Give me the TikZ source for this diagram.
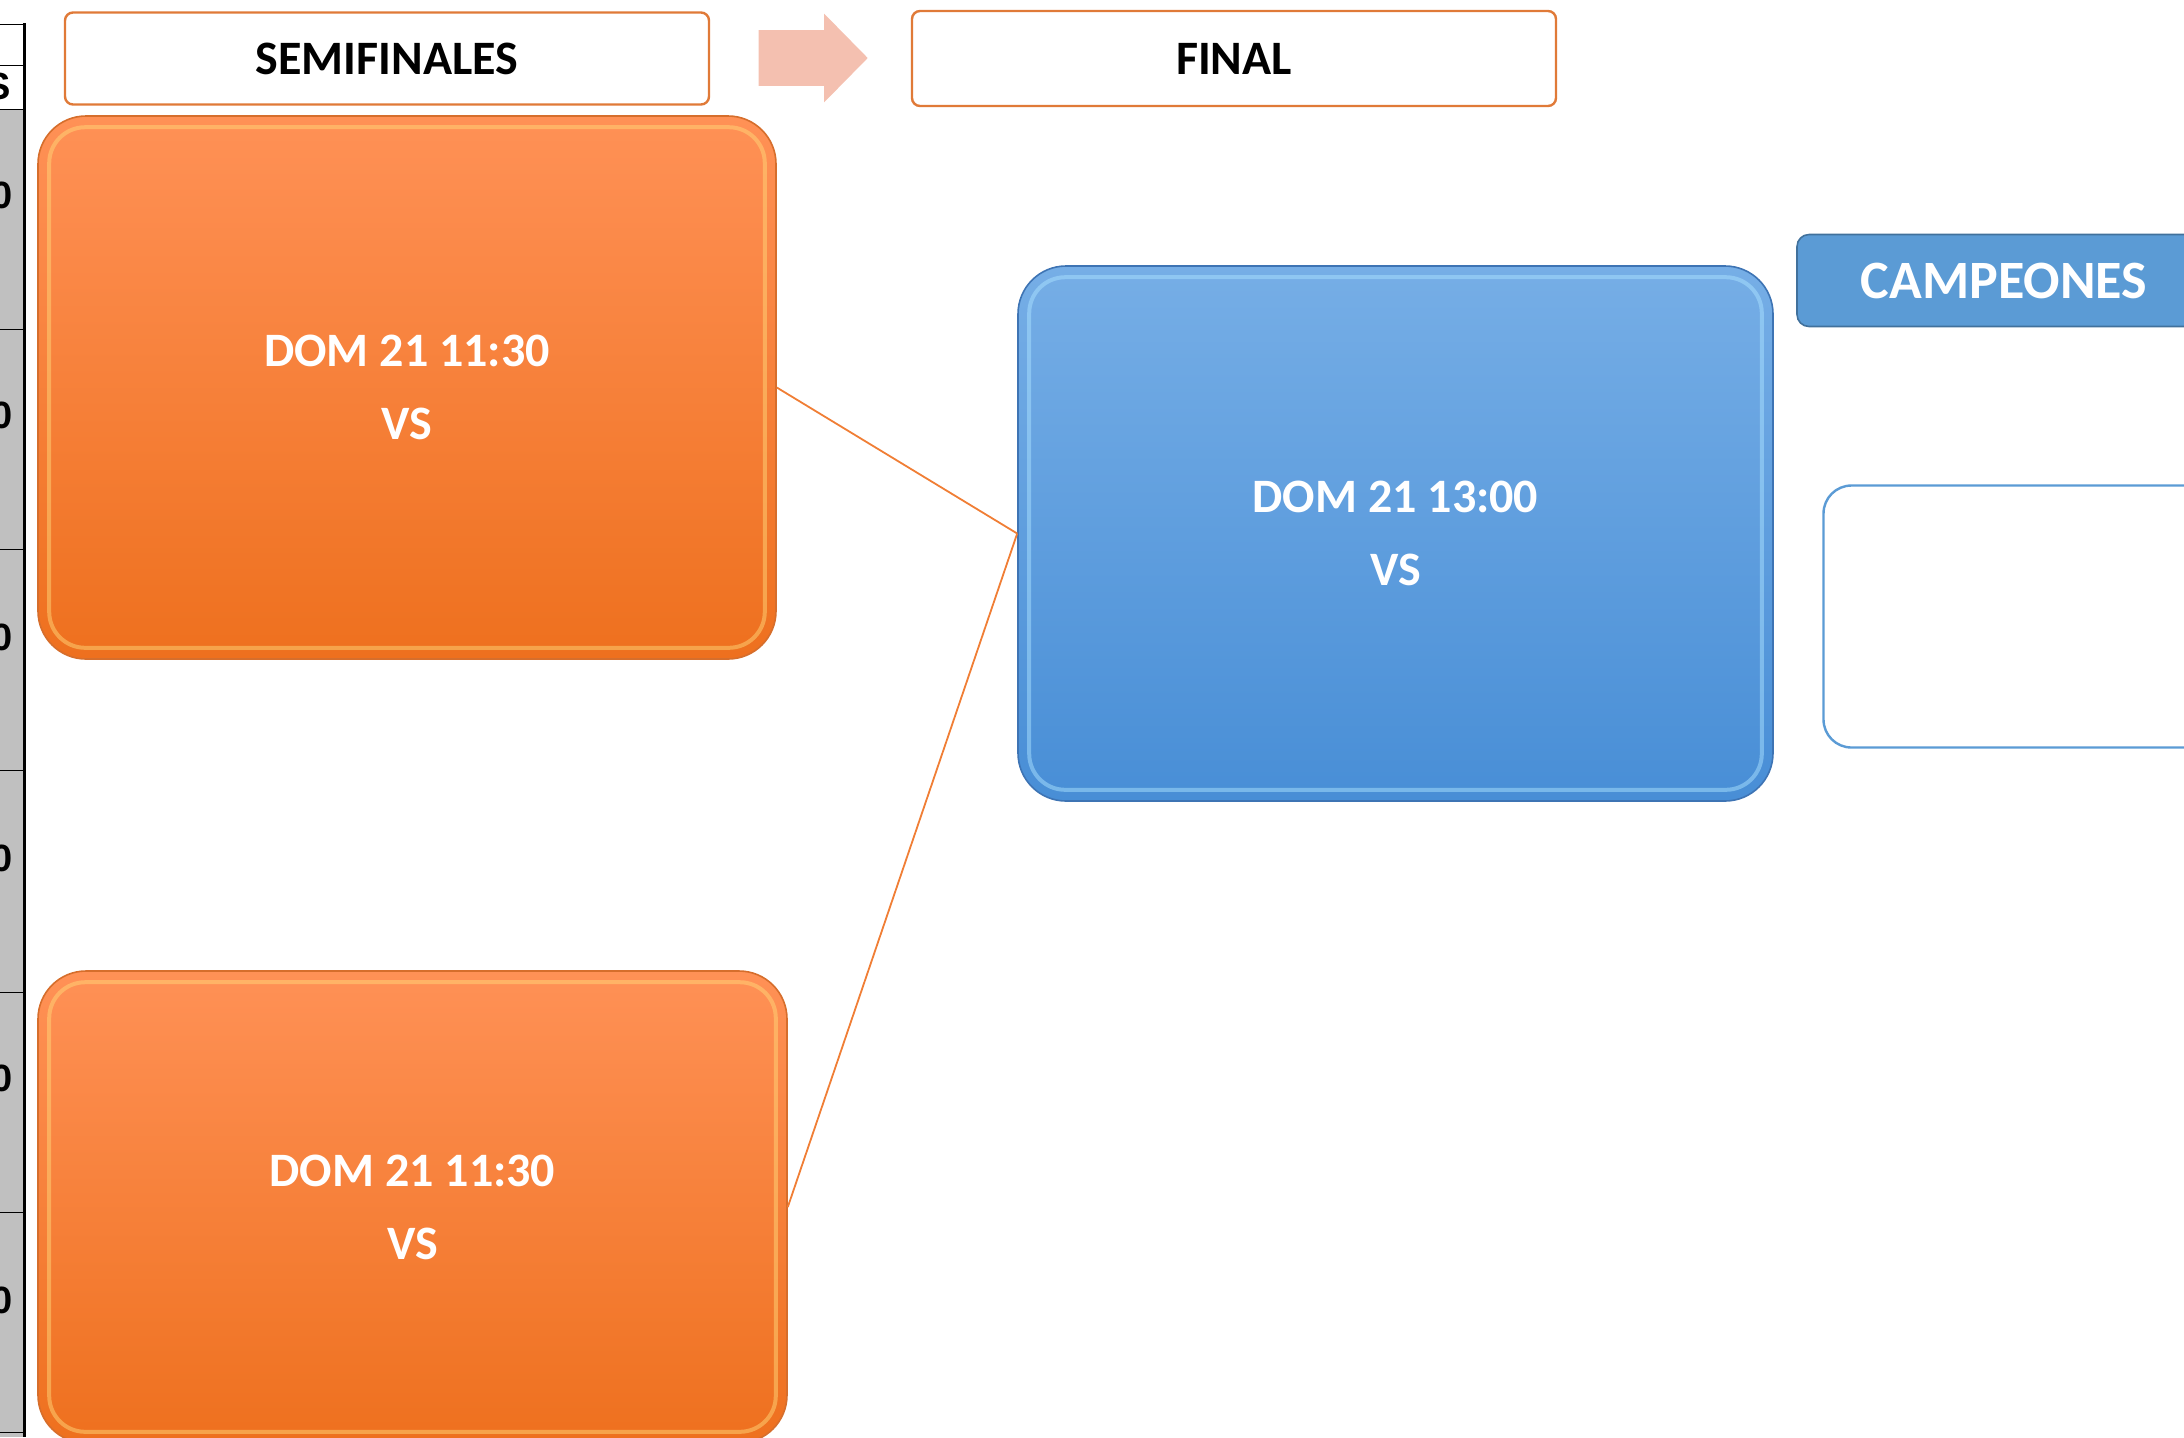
\documentclass[tikz,border=0pt]{standalone}
\usepackage{fontspec}
\setmainfont{Carlito}
\newfontfamily\tablefont{Liberation Sans}
\usetikzlibrary{shapes.arrows, positioning}
\definecolor{semitop}{RGB}{255,145,86}
\definecolor{semibot}{RGB}{238,112,30}
\definecolor{semiline}{RGB}{214,110,44}
\definecolor{semilite}{RGB}{255,214,120}
\definecolor{finaltop}{RGB}{118,174,230}
\definecolor{finalbot}{RGB}{72,142,214}
\definecolor{finalline}{RGB}{62,116,180}
\definecolor{finallite}{RGB}{170,225,255}
\definecolor{headline}{RGB}{224,122,56}
\definecolor{arrowfill}{RGB}{244,192,176}
\definecolor{champfill}{RGB}{91,155,213}
\definecolor{champline}{RGB}{65,113,156}
\definecolor{cellgray}{RGB}{192,192,192}

\begin{document}
\begin{tikzpicture}[x=0.5pt, y=-0.5pt,
  headbox/.style={draw=headline, line width=1.2pt, fill=white, rounded corners=4pt, minimum width=322pt, minimum height=46pt, inner sep=0pt, font=\fontsize{24}{28}\selectfont\bfseries},
  semibox/.style={draw=semiline, line width=0.8pt, top color=semitop, bottom color=semibot, rounded corners=24pt, inner sep=0pt, align=center, text=white, font=\fontsize{24}{36.5}\selectfont\bfseries},
  finalbox/.style={semibox, draw=finalline, top color=finaltop, bottom color=finalbot},
  champbox/.style={draw=champline, line width=0.8pt, fill=champfill, rounded corners=6pt, minimum width=207pt, minimum height=46pt, inner sep=0pt, text=white, font=\fontsize{27}{32}\selectfont\bfseries},
  winbox/.style={draw=champfill, line width=1.2pt, fill=white, rounded corners=14pt, minimum width=194pt, minimum height=131pt, inner sep=0pt},
  link/.style={draw=semibot!90!white, line width=0.9pt},
  bevel/.style={line width=2pt, rounded corners=18pt, opacity=0.5},
  tabtext/.style={anchor=east, inner sep=0pt, font=\tablefont\fontsize{19}{22}\selectfont\bfseries}
]
  \useasboundingbox (0,0) rectangle (2184,1437);

  % table on the left
  \fill[cellgray] (0,109) rectangle (24,1437);
  \draw[line width=0.5pt] (0,24) -- (24,24);
  \foreach \ry in {65,109,329,549,770,992,1212,1432}
    \draw[line width=0.5pt] (0,\ry) -- (24,\ry);
  \draw[line width=1.5pt] (24,23) -- (24,1437);
  \node[tabtext] (ts) at (11,86) {S};
  \foreach \ty [count=\i] in {195,415,637,858,1078,1300}
    \node[tabtext] (t\i) at (13,\ty) {0};

  % headers
  \node[headbox] (semi) at (387,58.5) {SEMIFINALES};
  \node[single arrow, fill=arrowfill, minimum height=54.5pt, inner xsep=0pt, inner ysep=13.75pt, single arrow head extend=8.25pt, single arrow tip angle=91] (go) at (799.5,58) {};
  \node[headbox, minimum height=47.5pt] (fin) at (1234,58.5) {FINAL};

  % matches
  \node[semibox, minimum width=369pt, minimum height=271.5pt] (sf1) at (407,387.5) {DOM 21 11:30\\VS};
  \node[semibox, minimum width=374.5pt, minimum height=236pt] (sf2) at (412.5,1207) {DOM 21 11:30\\VS};
  \node[finalbox, minimum width=377.5pt, minimum height=267.5pt] (fn) at (1395.5,533.5) {DOM 21 13:00\\VS};
  \foreach \n/\c in {sf1/semilite, sf2/semilite, fn/finallite}
    \draw[bevel, \c] ([xshift=6pt,yshift=-6pt]\n.north west) rectangle ([xshift=-6pt,yshift=6pt]\n.south east);

  \draw[link] (sf1.east) -- (fn.west);
  \draw[link] (sf2.east) -- (fn.west);

  % winner
  \node[champbox] (champ) at (2004,280.5) {CAMPEONES};
  \node[winbox] (win) at (2017.5,616.5) {};
\end{tikzpicture}
\end{document}
